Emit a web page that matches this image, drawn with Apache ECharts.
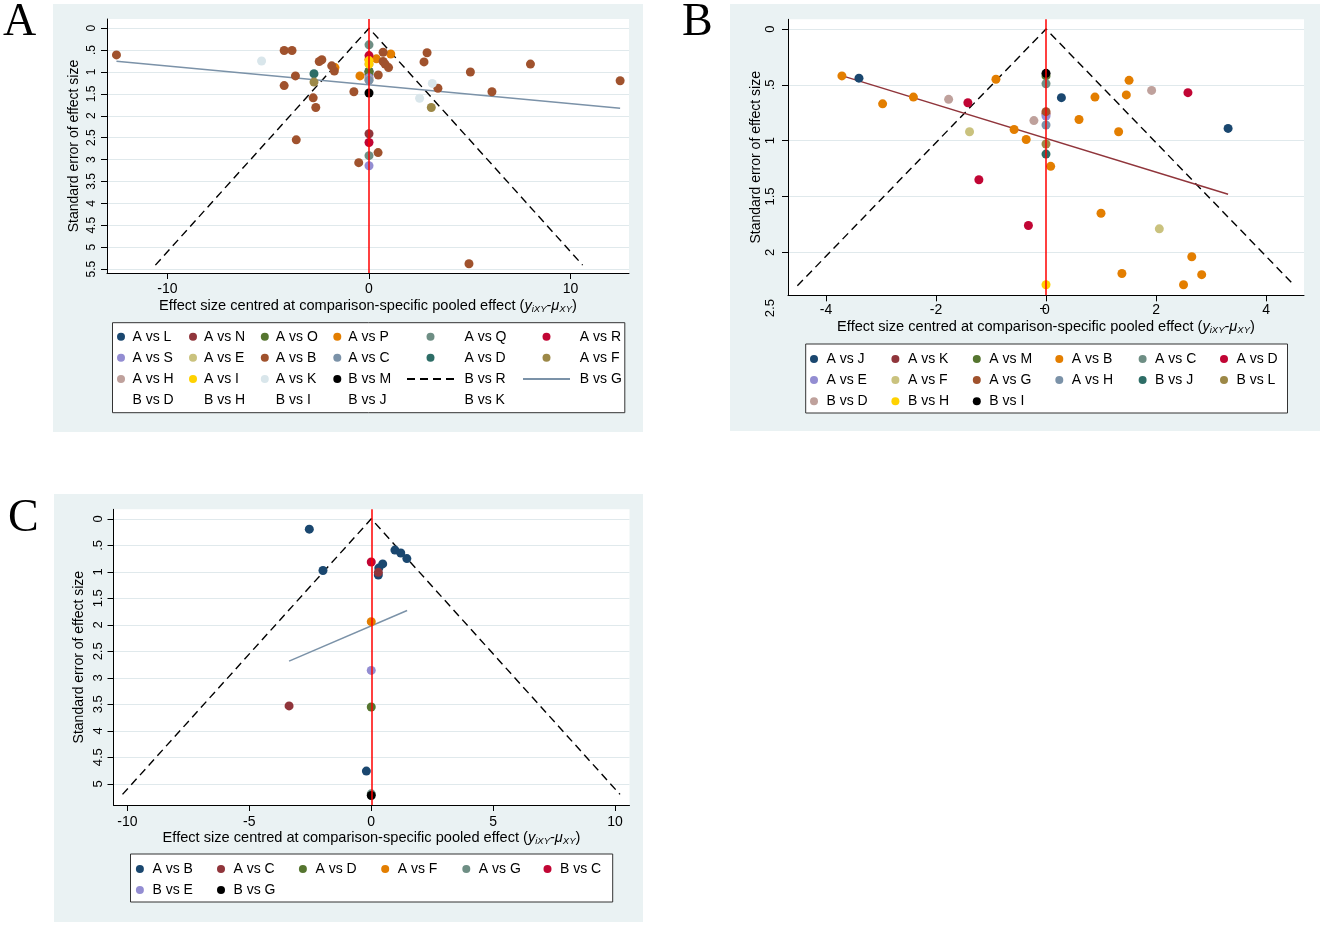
<!DOCTYPE html>
<html>
<head>
<meta charset="utf-8">
<title>Comparison-adjusted funnel plots</title>
<script src="https://cdn.jsdelivr.net/npm/echarts@6/dist/echarts.min.js"></script>
<style>
  html, body { margin: 0; padding: 0; background: #fff; }
  #chart { width: 1325px; height: 927px; }
</style>
</head>
<body>
<div id="chart"></div>
<script>
// ---- data (x = centred effect size, se = standard error) ----
var A_COMPARISONS = ['A vs L', 'A vs N', 'A vs O', 'A vs P', 'A vs Q', 'A vs R', 'A vs S', 'A vs E',
  'A vs B', 'A vs C', 'A vs D', 'A vs F', 'A vs H', 'A vs I', 'A vs K', 'B vs M'];
var A_EMPTY_KEYS = ['B vs D', 'B vs H', 'B vs I', 'B vs J', 'B vs K'];
var A_STUDIES = [
  [0, 0.99, 'A vs L'],
  [0, 2.41, 'A vs N'],
  [0, 0.99, 'A vs O'], [0, 1.05, 'A vs O'],
  [-1.69, 0.90, 'A vs P'], [-0.45, 1.09, 'A vs P'], [0.37, 0.70, 'A vs P'], [1.08, 0.59, 'A vs P'], [0, 0.71, 'A vs P'],
  [0, 0.38, 'A vs Q'], [0, 2.91, 'A vs Q'],
  [0, 0.625, 'A vs R'], [0, 2.61, 'A vs R'],
  [0, 1.13, 'A vs S'], [0, 3.14, 'A vs S'],
  [0, 1.18, 'A vs E'],
  [-12.53, 0.61, 'A vs B'], [-4.21, 0.51, 'A vs B'], [-3.82, 0.51, 'A vs B'], [-3.65, 1.09, 'A vs B'],
  [-4.21, 1.31, 'A vs B'], [-3.61, 2.55, 'A vs B'], [-2.77, 1.59, 'A vs B'], [-2.64, 1.81, 'A vs B'],
  [-2.47, 0.76, 'A vs B'], [-2.34, 0.72, 'A vs B'], [-1.85, 0.86, 'A vs B'], [-1.72, 0.98, 'A vs B'],
  [-0.75, 1.45, 'A vs B'], [-0.51, 3.07, 'A vs B'], [0.70, 0.55, 'A vs B'], [0.70, 0.76, 'A vs B'],
  [0.80, 0.82, 'A vs B'], [0.97, 0.90, 'A vs B'], [0.46, 1.07, 'A vs B'], [0.45, 2.84, 'A vs B'],
  [2.73, 0.77, 'A vs B'], [2.88, 0.56, 'A vs B'], [3.42, 1.37, 'A vs B'], [5.03, 1.00, 'A vs B'],
  [6.10, 1.45, 'A vs B'], [8.01, 0.82, 'A vs B'], [12.46, 1.20, 'A vs B'], [4.96, 5.38, 'A vs B'],
  [0, 1.19, 'A vs C'],
  [-2.73, 1.04, 'A vs D'],
  [-2.73, 1.23, 'A vs F'], [3.09, 1.81, 'A vs F'],
  [0, 0.82, 'A vs H'],
  [0, 0.74, 'A vs I'], [0, 0.82, 'A vs I'],
  [-5.33, 0.75, 'A vs K'], [3.14, 1.26, 'A vs K'], [2.51, 1.60, 'A vs K'],
  [0, 1.48, 'B vs M']
];
var A_FUNNEL = [[-10.6, 5.41], [0, 0], [10.6, 5.41]];
var A_FIT = [[-12.53, 0.755], [12.46, 1.83]];
var A_X_TICKS = [-10, 0, 10];
var A_Y_TICKS = [0, 0.5, 1, 1.5, 2, 2.5, 3, 3.5, 4, 4.5, 5, 5.5];

var B_COMPARISONS = ['A vs J', 'A vs K', 'A vs M', 'A vs B', 'A vs C', 'A vs D', 'A vs E', 'A vs F',
  'A vs G', 'A vs H', 'B vs J', 'B vs L', 'B vs D', 'B vs H', 'B vs I'];
var B_STUDIES = [
  [-3.40, 0.44, 'A vs J'], [0.28, 0.615, 'A vs J'], [3.31, 0.89, 'A vs J'],
  [0, 0.76, 'A vs K'],
  [0, 0.42, 'A vs M'],
  [-3.71, 0.42, 'A vs B'], [-2.97, 0.67, 'A vs B'], [-2.41, 0.61, 'A vs B'], [-0.91, 0.45, 'A vs B'],
  [-0.58, 0.90, 'A vs B'], [-0.36, 0.99, 'A vs B'], [0.085, 1.23, 'A vs B'], [0.60, 0.81, 'A vs B'],
  [0.89, 0.61, 'A vs B'], [1.32, 0.92, 'A vs B'], [1.46, 0.59, 'A vs B'], [1.51, 0.46, 'A vs B'],
  [1.00, 1.65, 'A vs B'], [2.65, 2.04, 'A vs B'], [1.38, 2.19, 'A vs B'], [2.83, 2.20, 'A vs B'],
  [2.50, 2.29, 'A vs B'],
  [0, 0.49, 'A vs C'],
  [-1.42, 0.66, 'A vs D'], [-1.22, 1.35, 'A vs D'], [-0.32, 1.76, 'A vs D'], [2.58, 0.57, 'A vs D'],
  [0, 0.78, 'A vs E'],
  [-1.39, 0.92, 'A vs F'], [2.06, 1.79, 'A vs F'],
  [0, 0.74, 'A vs G'],
  [0, 0.86, 'A vs H'],
  [0, 1.12, 'B vs J'],
  [0, 1.03, 'B vs L'],
  [-1.77, 0.63, 'B vs D'], [-0.22, 0.82, 'B vs D'], [1.92, 0.55, 'B vs D'],
  [0, 2.29, 'B vs H'],
  [0, 0.397, 'B vs I']
];
var B_FUNNEL = [[-4.52, 2.30], [0, 0], [4.52, 2.30]];
var B_FIT = [[-3.70, 0.42], [3.31, 1.48]];
var B_X_TICKS = [-4, -2, 0, 2, 4];
var B_Y_TICKS = [0, 0.5, 1, 1.5, 2];
var B_Y_EXTRA = [2.5];

var C_COMPARISONS = ['A vs B', 'A vs C', 'A vs D', 'A vs F', 'A vs G', 'B vs C', 'B vs E', 'B vs G'];
var C_STUDIES = [
  [-2.54, 0.195, 'A vs B'], [-1.98, 0.975, 'A vs B'], [0.97, 0.59, 'A vs B'], [1.21, 0.645, 'A vs B'],
  [1.46, 0.75, 'A vs B'], [0.47, 0.85, 'A vs B'], [0.31, 0.93, 'A vs B'], [0.29, 1.06, 'A vs B'],
  [-0.20, 4.76, 'A vs B'],
  [0.29, 1.01, 'A vs C'], [-3.37, 3.53, 'A vs C'],
  [0, 3.55, 'A vs D'],
  [0, 1.94, 'A vs F'],
  [0, 5.19, 'A vs G'],
  [0, 0.815, 'B vs C'],
  [0, 2.86, 'B vs E'],
  [0, 5.22, 'B vs G']
];
var C_FUNNEL = [[-10.2, 5.2], [0, 0], [10.2, 5.2]];
var C_FIT = [[-3.37, 2.685], [1.47, 1.73]];
var C_X_TICKS = [-10, -5, 0, 5, 10];
var C_Y_TICKS = [0, 0.5, 1, 1.5, 2, 2.5, 3, 3.5, 4, 4.5, 5];

// ---- styling ----
var FONT = "'Liberation Sans', Arial, Helvetica, sans-serif";
var SERIF = "'Liberation Serif', 'Times New Roman', serif";
var PALETTE = ['#1a476f', '#90353b', '#55752f', '#e37e00', '#6e8e84', '#c10534', '#938dd2', '#cac27e',
  '#a0522d', '#7b92a8', '#2d6d66', '#9c8847', '#bfa19c', '#ffd200', '#d9e6eb'];
var PANEL_BG = '#eaf2f3';
var GRID_LINE = '#e0e9ec';
var CLEAR = 'rgba(0,0,0,0)';
var X_TITLE = 'Effect size centred at comparison-specific pooled effect ({i|y}{s|iXY}-{i|μ}{s|XY})';

function comparisonColor(list, index) {
  return index === list.length - 1 ? '#000' : PALETTE[index];
}

function tickText(v) {
  if (v === 0) return '0';
  return String(v).replace(/^0\./, '.');
}

function xAxisFor(grid, min, max, step, ticks, labelMargin, nameGap) {
  return {
    type: 'value', gridIndex: grid, min: min, max: max, minInterval: step, maxInterval: step,
    name: X_TITLE, nameLocation: 'middle', nameGap: nameGap,
    nameTextStyle: {
      fontFamily: FONT, fontSize: 14.6, color: '#000', lineHeight: 16,
      rich: {
        i: { fontFamily: FONT, fontSize: 14.6, fontStyle: 'italic', color: '#000', lineHeight: 16 },
        s: { fontFamily: FONT, fontSize: 9.5, fontStyle: 'italic', color: '#000', lineHeight: 9, verticalAlign: 'bottom' }
      }
    },
    axisLine: { show: true, onZero: false, lineStyle: { color: '#000', width: 1 } },
    axisTick: { show: true, length: 6, customValues: ticks, lineStyle: { color: '#000', width: 1 } },
    axisLabel: { customValues: ticks, margin: labelMargin, fontFamily: FONT, fontSize: 14, color: '#000' },
    splitLine: { show: false }
  };
}

function yAxisFor(grid, min, max, ticks, fontSize, labelMargin, nameGap) {
  return {
    type: 'value', gridIndex: grid, min: min, max: max, inverse: true, minInterval: 0.5, maxInterval: 0.5,
    name: 'Standard error of effect size', nameLocation: 'middle', nameGap: nameGap,
    nameTextStyle: { fontFamily: FONT, fontSize: 14, color: '#000' },
    axisLine: { show: true, onZero: false, lineStyle: { color: '#000', width: 1 } },
    axisTick: { show: true, length: 6, customValues: ticks, lineStyle: { color: '#000', width: 1 } },
    axisLabel: {
      customValues: ticks, rotate: 90, margin: labelMargin, fontFamily: FONT, fontSize: fontSize, color: '#000',
      formatter: tickText
    },
    splitLine: { show: true, lineStyle: { color: GRID_LINE, width: 1 } }
  };
}

function panelSeries(key, axisIndex, comparisons, studies, funnel, fit, fitColor, funnelName, fitName) {
  var out = [];
  out.push({
    name: key + '|xline', type: 'line', xAxisIndex: axisIndex, yAxisIndex: axisIndex, data: [], z: 1,
    markLine: {
      silent: true, symbol: ['none', 'none'], label: { show: false },
      lineStyle: { color: '#ff0000', width: 1.5, type: 'solid' },
      emphasis: { disabled: true },
      data: [{ xAxis: 0 }]
    }
  });
  out.push({
    name: key + '|' + (funnelName || 'funnel'), type: 'line', xAxisIndex: axisIndex, yAxisIndex: axisIndex,
    data: funnel, symbol: 'none', z: 2, silent: true,
    itemStyle: { color: CLEAR, borderColor: CLEAR, borderWidth: 0 },
    lineStyle: { color: '#000', width: 1.4, type: [8, 5] }
  });
  out.push({
    name: key + '|' + (fitName || 'fit'), type: 'line', xAxisIndex: axisIndex, yAxisIndex: axisIndex,
    data: fit, symbol: 'none', z: 2, silent: true,
    itemStyle: { color: CLEAR, borderColor: CLEAR, borderWidth: 0 },
    lineStyle: { color: fitColor, width: 1.5, type: 'solid' }
  });
  comparisons.forEach(function (name, i) {
    out.push({
      name: key + '|' + name, type: 'scatter', xAxisIndex: axisIndex, yAxisIndex: axisIndex,
      symbol: 'circle', symbolSize: 9, z: 3,
      itemStyle: { color: comparisonColor(comparisons, i), opacity: 1 },
      emphasis: { disabled: true },
      data: studies.filter(function (s) { return s[2] === name; }).map(function (s) { return [s[0], s[1]]; })
    });
  });
  return out;
}

function legendColumn(left, top, itemWidth, pad, names, lineKeys) {
  return {
    orient: 'vertical', left: left, top: top, padding: 0, itemGap: 7.1,
    itemWidth: itemWidth, itemHeight: 8, selectedMode: false,
    formatter: function (name) { return name.split('|')[1]; },
    textStyle: { fontFamily: FONT, fontSize: 14, color: '#000', lineHeight: 14, padding: [0, 0, 0, pad] },
    data: names.map(function (n) {
      return lineKeys.indexOf(n) >= 0 ? { name: n, itemStyle: { opacity: 0 } } : { name: n, icon: 'circle' };
    })
  };
}

function columnsOf(key, order, cols) {
  var out = [];
  for (var c = 0; c < cols; c++) {
    var col = [];
    for (var i = c; i < order.length; i += cols) col.push(key + '|' + order[i]);
    out.push(col);
  }
  return out;
}

// ---- assemble ----
var series = []
  .concat(panelSeries('A', 0, A_COMPARISONS, A_STUDIES, A_FUNNEL, A_FIT, '#7b92a8', 'B vs R', 'B vs G'))
  .concat(panelSeries('B', 1, B_COMPARISONS, B_STUDIES, B_FUNNEL, B_FIT, '#90353b'))
  .concat(panelSeries('C', 2, C_COMPARISONS, C_STUDIES, C_FUNNEL, C_FIT, '#7b92a8'));

A_EMPTY_KEYS.forEach(function (name) {
  series.push({
    name: 'A|' + name, type: 'scatter', xAxisIndex: 0, yAxisIndex: 0, data: [],
    symbol: 'circle', itemStyle: { color: CLEAR }
  });
});

var A_ORDER = A_COMPARISONS.concat(['B vs R', 'B vs G']).concat(A_EMPTY_KEYS);
var aCols = columnsOf('A', A_ORDER, 6);
var bCols = columnsOf('B', B_COMPARISONS, 6);
var cCols = columnsOf('C', C_COMPARISONS, 6);
var lineKeys = ['A|B vs R', 'A|B vs G'];

// column placement of each legend (left edge of key, key width, extra text gap)
var aLeft = [117, 189, 260.8, 333.3, 406, 522];
var aWidth = [8, 8, 8, 8, 47, 47];
var aPad = [2.4, 2, 2, 2, 5.5, 4.8];
var bLeft = [810, 891.4, 972.8, 1055.3, 1138.6, 1220];
var cLeft = [135.9, 217, 298.9, 381.2, 462.3, 543.5];

var legends = [];
aCols.forEach(function (col, i) { legends.push(legendColumn(aLeft[i], 329.7, aWidth[i], aPad[i], col, lineKeys)); });
bCols.forEach(function (col, i) { if (col.length) legends.push(legendColumn(bLeft[i], 352, 8, 3.5, col, lineKeys)); });
cCols.forEach(function (col, i) { if (col.length) legends.push(legendColumn(cLeft[i], 862, 8, 3.5, col, lineKeys)); });

function bgRect(x, y, w, h, fill, stroke, z) {
  return {
    type: 'rect', z: z, silent: true, shape: { x: x, y: y, width: w, height: h },
    style: { fill: fill, stroke: stroke || null, lineWidth: stroke ? 1 : 0 }
  };
}

function letter(text, x, y) {
  return {
    type: 'text', z: 10, silent: true, x: x, y: y,
    style: { text: text, fontFamily: SERIF, fontSize: 46, fill: '#000', align: 'left', verticalAlign: 'middle' }
  };
}

var chart = echarts.init(document.getElementById('chart'), null, { renderer: 'canvas' });
chart.setOption({
  backgroundColor: '#fff',
  animation: false,
  graphic: [
    bgRect(53, 4, 590, 428, PANEL_BG, null, -100),
    bgRect(730, 4, 590, 427, PANEL_BG, null, -100),
    bgRect(54, 494, 589, 428, PANEL_BG, null, -100),
    bgRect(112.5, 322.7, 512.3, 90, '#fff', '#333', -50),
    bgRect(805.7, 344, 481.8, 69, '#fff', '#333', -50),
    bgRect(130.5, 854, 482.2, 48, '#fff', '#333', -50),
    letter('A', 3, 23),
    letter('B', 682, 23),
    letter('C', 8, 519)
  ],
  grid: [
    { left: 107, top: 19, width: 522, height: 254, show: true, backgroundColor: '#fff', borderWidth: 0 },
    { left: 788, top: 19.3, width: 516, height: 276, show: true, backgroundColor: '#fff', borderWidth: 0 },
    { left: 113.5, top: 509.3, width: 516, height: 295.7, show: true, backgroundColor: '#fff', borderWidth: 0 },
    { left: 788, top: 19.3, width: 516, height: 288.8, show: false }
  ],
  xAxis: [
    xAxisFor(0, -13, 12.9, 10, A_X_TICKS, 9, 25),
    xAxisFor(1, -4.69, 4.69, 2, B_X_TICKS, 8, 24),
    xAxisFor(2, -10.57, 10.59, 5, C_X_TICKS, 10, 25),
    { type: 'value', gridIndex: 3, min: -4.69, max: 4.69, show: false }
  ],
  yAxis: [
    yAxisFor(0, -0.21, 5.59, A_Y_TICKS, 12, 9, 26),
    yAxisFor(1, -0.087, 2.385, B_Y_TICKS, 13, 11, 25),
    yAxisFor(2, -0.18, 5.40, C_Y_TICKS, 13, 9, 27),
    {
      type: 'value', gridIndex: 3, min: -0.087, max: 2.5, inverse: true,
      axisLine: { show: false },
      axisTick: { show: true, length: 6, customValues: B_Y_EXTRA, lineStyle: { color: '#000', width: 1 } },
      axisLabel: {
        customValues: B_Y_EXTRA, rotate: 90, margin: 11, fontFamily: FONT, fontSize: 13, color: '#000',
        formatter: function (v) { return B_Y_EXTRA.indexOf(v) >= 0 ? tickText(v) : ''; }
      },
      splitLine: { show: false }
    }
  ],
  legend: legends,
  series: series
});
</script>
</body>
</html>
